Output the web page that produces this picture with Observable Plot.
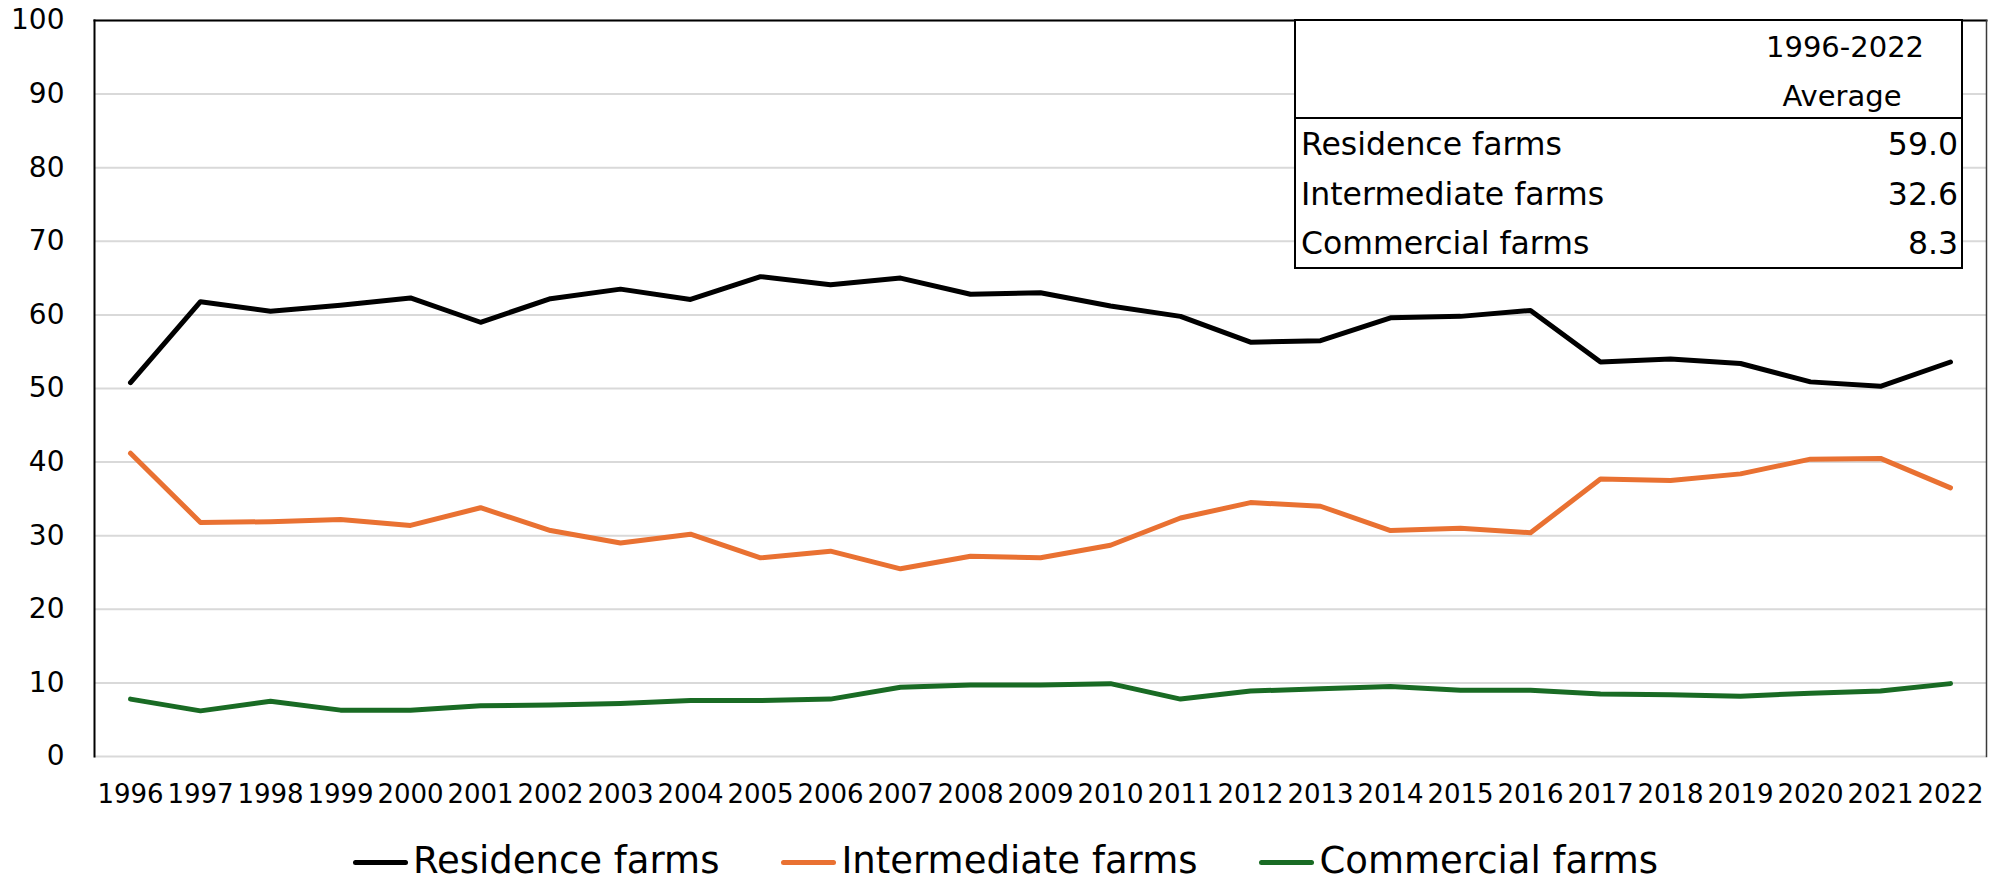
<!DOCTYPE html>
<html>
<head>
<meta charset="utf-8">
<script src="https://cdn.jsdelivr.net/npm/d3@7"></script>
<script src="https://cdn.jsdelivr.net/npm/@observablehq/plot@0.6"></script>
<style>
  body { margin: 0; background: #fff; font-family: "DejaVu Sans", sans-serif; color: #000; }
  #wrap { position: relative; width: 2011px; height: 883px; overflow: hidden; }
  #legend { position: absolute; left: 0; top: 839px; width: 2011px; height: 43px; line-height: 43px;
            display: flex; justify-content: center; align-items: center; gap: 62px; font-size: 37px; }
  .item { display: flex; align-items: center; white-space: nowrap; height: 43px; }
  .swatch { width: 55px; height: 5px; border-radius: 2.5px; margin-right: 5px; margin-top: 4px; }
  #avg { position: absolute; left: 1294px; top: 19px; width: 669px; height: 250px;
         box-sizing: border-box; border: 2.5px solid #000; background: #fff; font-size: 29px; }
  #avg .t { position: absolute; line-height: 29px; white-space: nowrap; }
  #avg .row { font-size: 31.5px; }
  #avg .sep { position: absolute; left: 0; right: 0; top: 96px; height: 0; border-top: 2.5px solid #000; }
</style>
</head>
<body>
<div id="wrap"></div>
<script>
// Share of farms by type, percent of all farms
const years = [1996, 1997, 1998, 1999, 2000, 2001, 2002, 2003, 2004, 2005, 2006, 2007, 2008, 2009,
               2010, 2011, 2012, 2013, 2014, 2015, 2016, 2017, 2018, 2019, 2020, 2021, 2022];
const residence    = [50.8, 61.8, 60.5, 61.3, 62.3, 59.0, 62.2, 63.5, 62.1, 65.2, 64.1, 65.0, 62.8, 63.0,
                      61.2, 59.8, 56.3, 56.5, 59.6, 59.8, 60.6, 53.6, 54.0, 53.4, 50.9, 50.3, 53.6];
const intermediate = [41.2, 31.8, 31.9, 32.2, 31.4, 33.8, 30.7, 29.0, 30.2, 27.0, 27.9, 25.5, 27.2, 27.0,
                      28.7, 32.4, 34.5, 34.0, 30.7, 31.0, 30.4, 37.7, 37.5, 38.4, 40.4, 40.5, 36.5];
const commercial   = [7.8, 6.2, 7.5, 6.3, 6.3, 6.9, 7.0, 7.2, 7.6, 7.6, 7.8, 9.4, 9.7, 9.7,
                      9.9, 7.8, 8.9, 9.2, 9.5, 9.0, 9.0, 8.5, 8.4, 8.2, 8.6, 8.9, 9.9];
const seriesNames  = ["Residence farms", "Intermediate farms", "Commercial farms"];
const seriesColors = ["#000000", "#E97132", "#196B24"];
const yTicks = [0, 10, 20, 30, 40, 50, 60, 70, 80, 90, 100];

// Summary table
const averagePeriod = "1996-2022";
const averageLabel = "Average";
const averages = [59.0, 32.6, 8.3];

const seriesValues = [residence, intermediate, commercial];
const rows = seriesNames.flatMap((name, i) =>
  years.map((year, j) => ({series: name, year, value: seriesValues[i][j]})));

const chart = Plot.plot({
  width: 2011,
  height: 816,
  marginLeft: 94,
  marginRight: 25,
  marginTop: 20,
  marginBottom: 60,
  style: {fontFamily: "'DejaVu Sans', sans-serif", fontSize: "26px", color: "#000", background: "#fff", overflow: "visible"},
  x: {type: "point", domain: years, padding: 0.5, label: null, tickSize: 0, tickPadding: 28, tickFormat: d => String(d)},
  y: {domain: [0, 100], ticks: yTicks, label: null, tickSize: 0, tickPadding: 30},
  color: {domain: seriesNames, range: seriesColors},
  marks: [
    Plot.gridY(yTicks, {stroke: "#d9d9d9", strokeOpacity: 1, strokeWidth: 2}),
    Plot.frame({anchor: "left", stroke: "#000", strokeWidth: 2}),
    Plot.frame({anchor: "top", stroke: "#000", strokeWidth: 2}),
    Plot.frame({anchor: "right", stroke: "#3a3a3a", strokeWidth: 1.5}),
    Plot.axisY(yTicks, {tickSize: 0, tickPadding: 30, fontSize: 28}),
    Plot.line(rows, {x: "year", y: "value", z: "series", stroke: "series",
                     strokeWidth: 5, strokeLinejoin: "round", strokeLinecap: "round"})
  ]
});

const wrap = document.getElementById("wrap");
wrap.appendChild(chart);

// Averages table in the upper right of the plot
const avg = document.createElement("div");
avg.id = "avg";
const addText = (text, css, cls) => {
  const d = document.createElement("div");
  d.className = "t" + (cls ? " " + cls : "");
  d.textContent = text;
  Object.assign(d.style, css);
  avg.appendChild(d);
};
addText(averagePeriod, {left: "470px", width: "152px", textAlign: "center", top: "12px"});
addText(averageLabel, {left: "470px", width: "152px", textAlign: "center", top: "61px"});
const sep = document.createElement("div");
sep.className = "sep";
avg.appendChild(sep);
seriesNames.forEach((name, i) => {
  const top = 109 + i * 49.5;
  addText(name, {left: "5px", top: top + "px"}, "row");
  addText(averages[i].toFixed(1), {right: "3px", top: top + "px", textAlign: "right"}, "row");
});
wrap.appendChild(avg);

// Legend
const legend = document.createElement("div");
legend.id = "legend";
seriesNames.forEach((name, i) => {
  const item = document.createElement("div");
  item.className = "item";
  const sw = document.createElement("span");
  sw.className = "swatch";
  sw.style.background = seriesColors[i];
  const label = document.createElement("span");
  label.textContent = name;
  item.appendChild(sw);
  item.appendChild(label);
  legend.appendChild(item);
});
wrap.appendChild(legend);
</script>
</body>
</html>
